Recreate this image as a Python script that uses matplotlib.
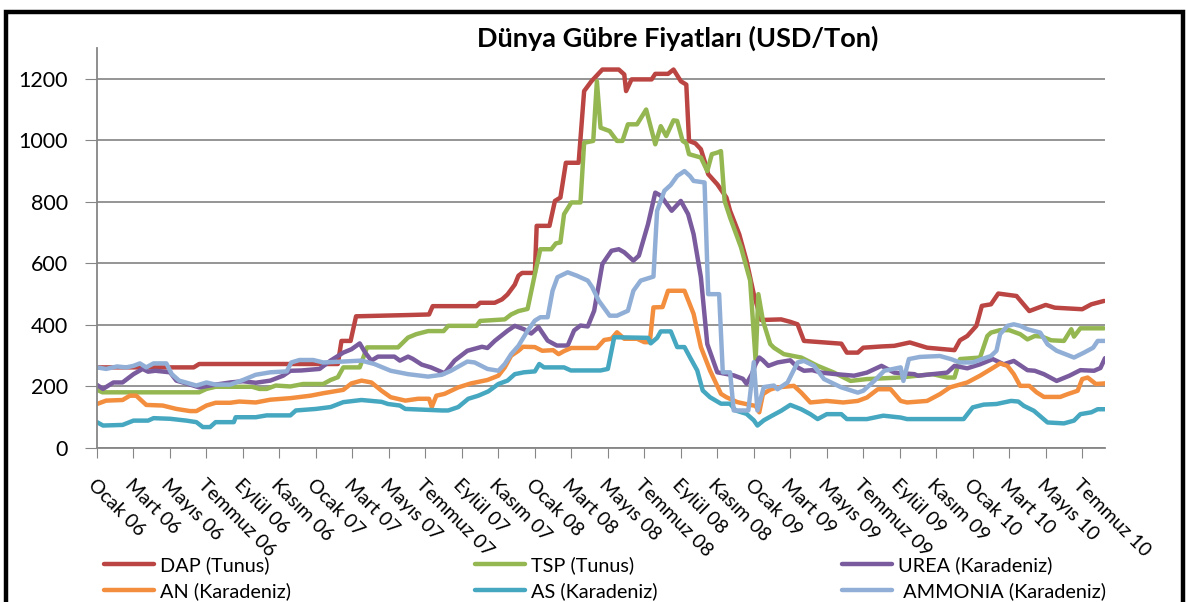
import matplotlib
matplotlib.use("Agg")
import matplotlib.pyplot as plt
from matplotlib.patches import Rectangle

plt.rcParams['font.family'] = ['Lato', 'DejaVu Sans']

# x: months since Ocak 06 ; y: USD/Ton
month_labels = ["Ocak 06", "Mart 06", "Mayıs 06", "Temmuz 06", "Eylül 06", "Kasım 06",
                "Ocak 07", "Mart 07", "Mayıs 07", "Temmuz 07", "Eylül 07", "Kasım 07",
                "Ocak 08", "Mart 08", "Mayıs 08", "Temmuz 08", "Eylül 08", "Kasım 08",
                "Ocak 09", "Mart 09", "Mayıs 09", "Temmuz 09", "Eylül 09", "Kasım 09",
                "Ocak 10", "Mart 10", "Mayıs 10", "Temmuz 10"]
month_ticks = list(range(0, 55, 2))

dap_t = [0, 5.3, 5.6, 13.2, 13.4, 13.9, 14.2, 17.0, 18.2, 18.4, 20.8, 21.0, 21.8, 22.2, 22.5, 22.9, 23.1, 23.3, 24.0, 24.1, 24.8, 25.1, 25.4, 25.7, 26.4, 26.7, 27.1, 27.7, 28.6, 28.9, 29.0, 29.3, 30.4, 30.6, 31.3, 31.6, 32.0, 32.3, 32.45, 32.8, 33.1, 33.3, 33.5, 34.0, 34.5, 34.7, 35.2, 35.6, 36.0, 36.4, 37.5, 38.0, 38.4, 38.75, 40.8, 41.1, 41.7, 42.0, 43.0, 43.7, 44.55, 45.5, 47.0, 47.3, 47.7, 48.2, 48.5, 49.0, 49.4, 50.4, 51.1, 52.0, 52.5, 54.0, 54.5, 55.2]
dap_v = [262, 262, 273, 273, 348, 348, 428, 432, 434, 461, 461, 472, 472, 483, 499, 531, 560, 569, 569, 722, 722, 803, 814, 927, 927, 1160, 1192, 1230, 1230, 1214, 1160, 1198, 1198, 1216, 1216, 1230, 1192, 1181, 998, 990, 971, 933, 890, 857, 814, 771, 695, 609, 500, 416, 418, 410, 402, 348, 339, 310, 310, 326, 330, 332, 343, 326, 318, 350, 364, 397, 462, 467, 502, 494, 445, 465, 456, 451, 467, 478]

tsp_t = [0, 0.3, 5.6, 6.0, 6.5, 8.5, 8.9, 9.3, 9.8, 10.6, 11.3, 12.4, 12.8, 13.2, 13.5, 14.4, 14.8, 16.5, 17.05, 17.5, 18.15, 19.0, 19.25, 20.8, 21.0, 22.35, 22.7, 23.1, 23.6, 24.0, 24.3, 24.9, 25.15, 25.4, 25.6, 26.0, 26.5, 26.7, 27.2, 27.4, 27.6, 28.1, 28.5, 28.8, 29.1, 29.6, 30.1, 30.6, 30.9, 31.2, 31.6, 31.8, 32.1, 32.3, 32.45, 33.1, 33.45, 33.7, 34.0, 34.2, 34.4, 34.7, 35.3, 35.8, 36.1, 36.25, 36.5, 36.9, 37.1, 37.65, 38.6, 39.5, 40.4, 41.3, 42.2, 44.0, 45.8, 46.6, 47.0, 47.3, 48.4, 48.8, 49.0, 49.5, 50.0, 50.6, 51.0, 51.4, 51.8, 52.3, 53.0, 53.4, 53.55, 53.9, 55.2]
tsp_v = [189, 181, 181, 192, 199, 199, 192, 192, 203, 200, 208, 208, 221, 230, 262, 262, 327, 327, 359, 370, 380, 380, 397, 397, 413, 418, 434, 445, 452, 565, 646, 646, 665, 668, 760, 798, 798, 992, 998, 1192, 1041, 1030, 998, 998, 1052, 1052, 1100, 987, 1046, 1014, 1065, 1063, 998, 990, 955, 944, 900, 955, 960, 965, 803, 749, 652, 544, 284, 500, 414, 338, 326, 305, 294, 267, 245, 218, 224, 229, 240, 229, 229, 289, 294, 364, 375, 383, 383, 370, 353, 364, 362, 350, 348, 386, 362, 389, 389]

urea_t = [0, 0.33, 0.9, 1.4, 2.0, 2.5, 2.8, 3.2, 4.0, 4.35, 5.0, 5.6, 6.5, 7.3, 8.0, 8.7, 9.5, 10.2, 10.6, 11.2, 12.2, 12.8, 13.5, 13.95, 14.4, 14.7, 15.04, 15.4, 16.3, 16.6, 17.05, 17.3, 17.8, 18.3, 19.05, 19.6, 20.3, 21.1, 21.4, 21.8, 22.5, 22.9, 23.4, 23.8, 24.2, 24.7, 25.2, 25.8, 26.15, 26.5, 26.9, 27.25, 27.7, 28.2, 28.6, 28.9, 29.4, 29.7, 30.2, 30.6, 30.9, 31.5, 32.0, 32.4, 32.7, 33.1, 33.45, 34.0, 34.9, 35.4, 35.6, 35.9, 36.1, 36.3, 36.5, 36.8, 37.3, 38.0, 38.4, 38.75, 39.2, 39.7, 40.5, 41.5, 42.2, 43.0, 43.7, 44.8, 45.0, 45.8, 46.6, 47.0, 47.7, 48.4, 49.1, 49.7, 50.25, 51.0, 51.4, 51.9, 52.6, 53.3, 53.9, 54.65, 55.0, 55.25]
urea_v = [205, 192, 213, 213, 240, 257, 248, 251, 246, 219, 208, 197, 206, 213, 217, 212, 219, 235, 251, 252, 257, 284, 310, 321, 340, 310, 284, 297, 297, 284, 297, 290, 271, 262, 243, 284, 316, 329, 325, 348, 381, 397, 386, 372, 393, 349, 333, 333, 382, 398, 395, 446, 598, 641, 646, 636, 609, 625, 727, 830, 820, 771, 803, 760, 695, 555, 338, 246, 236, 225, 209, 241, 273, 294, 285, 267, 278, 285, 262, 251, 253, 245, 240, 235, 245, 267, 245, 240, 235, 240, 245, 267, 259, 272, 289, 272, 283, 253, 251, 240, 218, 235, 253, 251, 260, 292]

an_t = [0, 0.5, 1.4, 1.8, 2.15, 2.7, 3.6, 4.35, 5.1, 5.45, 6.0, 6.5, 7.3, 7.8, 8.7, 9.5, 10.6, 11.7, 12.4, 13.5, 13.95, 14.5, 15.04, 15.6, 16.1, 16.9, 17.6, 18.2, 18.35, 18.6, 19.05, 19.8, 20.5, 21.4, 22.0, 22.35, 22.7, 23.1, 23.35, 24.0, 24.4, 25.0, 25.3, 25.6, 26.0, 27.4, 27.8, 28.2, 28.5, 28.9, 29.6, 30.0, 30.3, 30.5, 31.0, 31.3, 32.2, 32.7, 33.1, 33.6, 34.2, 34.5, 35.1, 35.8, 36.1, 36.3, 36.5, 36.9, 37.3, 38.2, 38.6, 39.1, 40.0, 40.9, 41.7, 42.2, 42.8, 43.5, 44.05, 44.4, 45.5, 46.2, 46.75, 47.7, 48.4, 49.15, 49.5, 49.9, 50.25, 50.6, 51.1, 51.5, 51.9, 52.8, 53.2, 53.75, 54.0, 54.3, 54.75, 55.25]
an_v = [143, 154, 156, 170, 170, 140, 138, 127, 120, 120, 138, 147, 147, 151, 148, 157, 162, 170, 178, 189, 210, 219, 213, 186, 165, 154, 160, 160, 133, 170, 176, 197, 210, 221, 235, 262, 300, 316, 329, 328, 316, 318, 305, 315, 325, 325, 351, 355, 376, 355, 355, 344, 344, 457, 458, 511, 511, 436, 328, 252, 176, 165, 149, 140, 137, 116, 175, 190, 197, 202, 180, 148, 153, 148, 153, 164, 191, 191, 153, 148, 153, 175, 197, 213, 235, 262, 275, 267, 240, 202, 202, 181, 166, 166, 175, 186, 224, 229, 208, 210]

as_t = [0, 0.33, 1.4, 2.0, 2.8, 3.1, 4.0, 4.9, 5.45, 5.8, 6.2, 6.5, 7.5, 7.6, 8.7, 9.3, 10.6, 10.9, 12.0, 12.8, 13.5, 14.5, 15.6, 15.95, 16.6, 16.9, 18.9, 19.25, 19.8, 20.35, 20.9, 21.45, 22.0, 22.5, 22.9, 23.4, 24.0, 24.24, 24.5, 25.6, 25.97, 27.6, 28.0, 28.35, 30.2, 30.35, 30.7, 30.9, 31.45, 31.8, 32.2, 32.5, 32.9, 33.2, 33.6, 34.2, 34.7, 35.0, 35.6, 36.0, 36.2, 36.55, 37.0, 37.5, 38.0, 38.6, 39.1, 39.5, 40.0, 40.8, 41.1, 42.2, 43.1, 44.05, 44.4, 47.5, 48.0, 48.6, 49.3, 50.1, 50.5, 50.8, 51.35, 52.1, 53.0, 53.55, 53.9, 54.5, 54.85, 55.25]
as_v = [84, 73, 75, 89, 89, 97, 95, 89, 84, 68, 68, 84, 84, 100, 100, 106, 106, 122, 127, 133, 149, 156, 150, 143, 138, 127, 122, 122, 133, 160, 170, 184, 208, 219, 240, 246, 249, 273, 262, 262, 252, 252, 257, 360, 358, 340, 358, 379, 379, 328, 328, 295, 252, 187, 165, 144, 144, 122, 111, 90, 73, 90, 105, 121, 140, 126, 110, 94, 110, 110, 94, 94, 105, 99, 94, 94, 132, 141, 143, 153, 151, 137, 121, 83, 80, 89, 110, 116, 126, 126]

amm_t = [0, 0.5, 1.1, 1.6, 2.0, 2.35, 2.7, 3.1, 3.8, 4.1, 4.5, 5.45, 6.0, 6.5, 7.3, 8.0, 8.7, 9.5, 10.4, 10.65, 11.1, 11.85, 12.4, 13.5, 14.5, 15.2, 16.1, 17.05, 18.15, 18.9, 19.4, 20.3, 20.7, 21.4, 22.0, 22.35, 22.7, 23.1, 23.6, 24.0, 24.3, 24.7, 24.97, 25.24, 25.8, 26.3, 26.9, 27.15, 27.5, 28.1, 28.5, 29.1, 29.4, 29.8, 30.5, 30.7, 31.1, 31.45, 31.8, 32.2, 32.5, 32.7, 33.3, 33.5, 34.1, 34.3, 34.7, 34.9, 35.7, 36.0, 36.2, 36.55, 37.1, 37.3, 37.85, 38.4, 38.75, 39.3, 39.85, 40.8, 41.7, 42.0, 42.6, 43.15, 44.05, 44.2, 44.5, 45.1, 46.2, 46.8, 47.3, 48.0, 48.5, 49.0, 49.3, 49.5, 49.9, 50.25, 50.6, 51.0, 51.7, 52.1, 52.6, 53.55, 54.1, 54.6, 54.85, 55.25]
amm_v = [262, 257, 265, 262, 267, 275, 262, 275, 275, 240, 219, 203, 213, 206, 206, 221, 238, 246, 249, 278, 286, 286, 278, 281, 284, 273, 251, 240, 232, 238, 251, 281, 278, 257, 251, 273, 305, 332, 381, 414, 425, 425, 511, 555, 571, 560, 544, 522, 479, 430, 430, 446, 511, 544, 557, 771, 836, 855, 884, 900, 884, 868, 863, 500, 500, 246, 246, 122, 122, 279, 122, 198, 203, 191, 213, 278, 283, 267, 224, 197, 180, 186, 218, 251, 262, 218, 289, 296, 299, 289, 278, 278, 289, 299, 316, 370, 397, 402, 397, 386, 375, 337, 316, 294, 310, 326, 348, 348]

series = [
    ("DAP (Tunus)", dap_t, dap_v, "#BA4542"),
    ("TSP (Tunus)", tsp_t, tsp_v, "#95B752"),
    ("UREA (Karadeniz)", urea_t, urea_v, "#7A5C9E"),
    ("AN (Karadeniz)", an_t, an_v, "#F28E3E"),
    ("AS (Karadeniz)", as_t, as_v, "#46A7C0"),
    (" AMMONIA (Karadeniz)", amm_t, amm_v, "#91AFD6"),
]

W, H = 1187, 602
fig = plt.figure(figsize=(W / 100, H / 100), dpi=100)
ax = fig.add_axes([97 / W, 1 - 448 / H, (1105 - 97) / W, (448 - 48) / H])

handles = {}
for name, t, v, c in series:
    ln, = ax.plot(t, v, color=c, lw=3.2, solid_joinstyle='round', solid_capstyle='round')
    handles[name] = ln

ax.set_xlim(0, 55.25)
ax.set_ylim(0, 1300)
ax.set_yticks(range(0, 1201, 200))
ax.set_xticks(month_ticks)
ax.set_xticklabels(month_labels, rotation=-45, ha='left', va='top', rotation_mode='anchor')
ax.tick_params(axis='x', length=7, color='#868686', labelsize=14, pad=13)
ax.tick_params(axis='y', length=9, color='#868686', labelsize=15.5, pad=12)
ax.grid(axis='y', color='#8C8C8C', lw=1.3)
ax.set_axisbelow(True)
for s in ['top', 'right']:
    ax.spines[s].set_visible(False)
for s in ['left', 'bottom']:
    ax.spines[s].set_color('#868686')
    ax.spines[s].set_linewidth(1.3)

fig.text(678 / W, 1 - 38 / H, "Dünya Gübre Fiyatları (USD/Ton)", ha='center', va='center',
         fontsize=19.5, fontweight='bold')

order = ["DAP (Tunus)", "AN (Karadeniz)", "TSP (Tunus)", "AS (Karadeniz)",
         "UREA (Karadeniz)", " AMMONIA (Karadeniz)"]
leg = fig.legend([handles[k] for k in order], order, ncol=3, loc='upper left',
                 bbox_to_anchor=(104 / W, 1 - 556 / H), frameon=False, fontsize=14.3,
                 handlelength=2.5, handletextpad=0.3, columnspacing=9.3, labelspacing=0.42,
                 borderpad=0, borderaxespad=0)

fig.patches.append(Rectangle((6 / W, -0.1), (1183 - 6) / W, 1.1 - 12 / H, transform=fig.transFigure,
                             fill=False, ec='black', lw=3.2))

fig.savefig("out.png", dpi=100)
